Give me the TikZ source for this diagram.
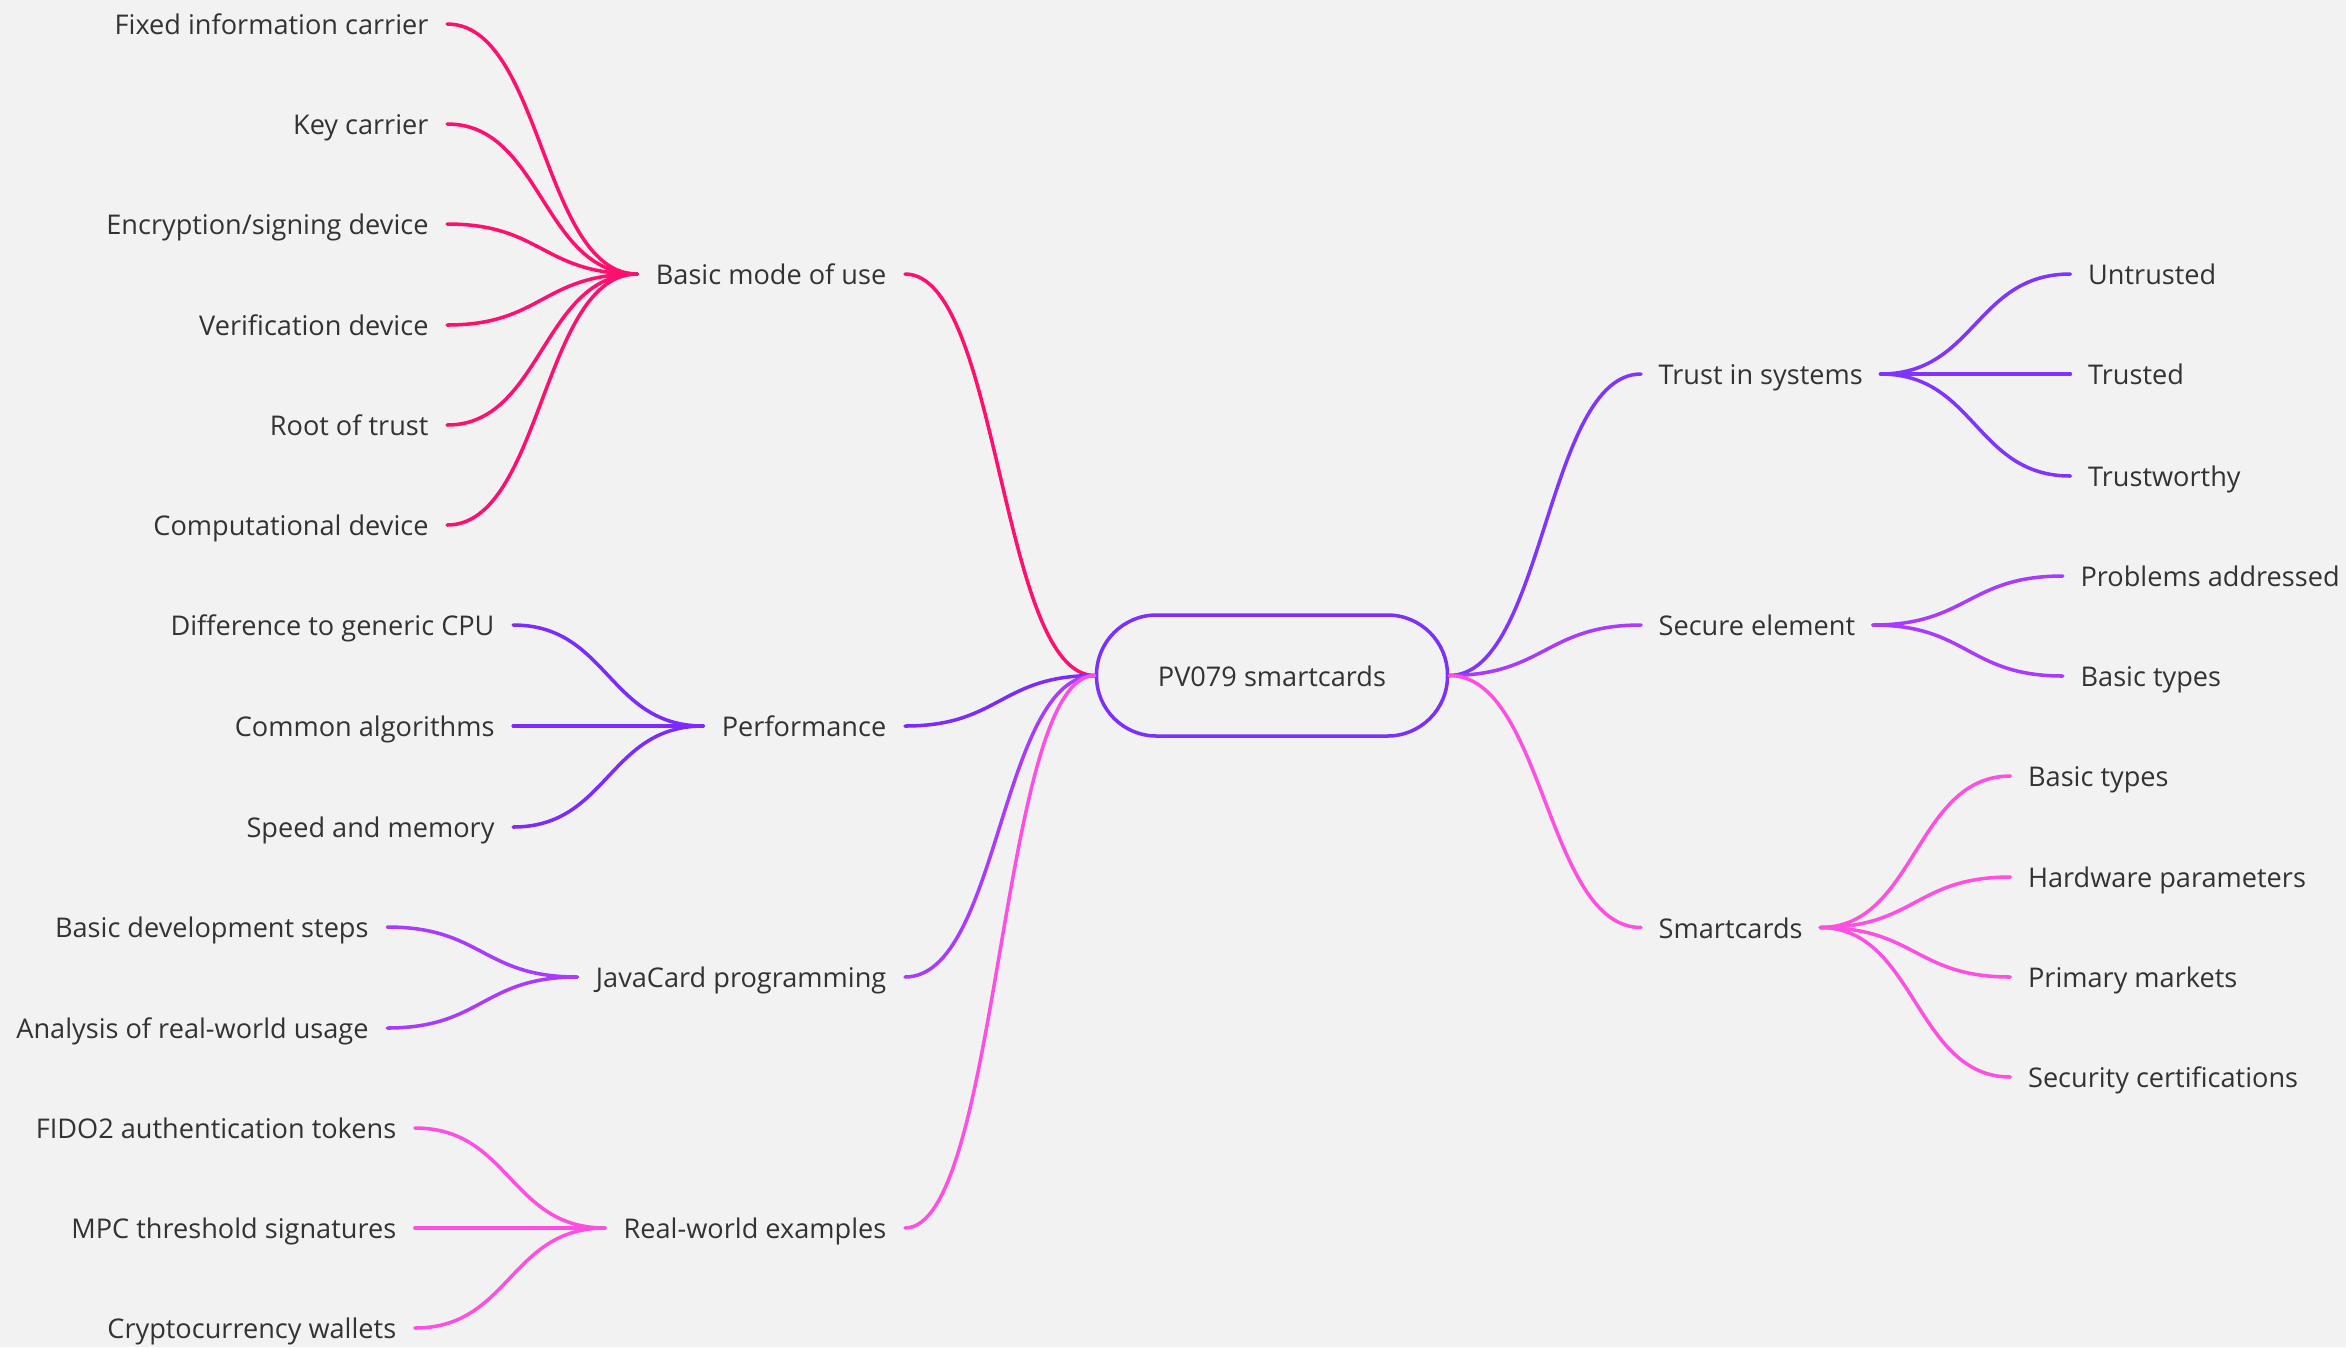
\documentclass[tikz,border=0pt]{standalone}
\usepackage{fontspec}
\setmainfont{Open Sans}

\definecolor{bgcol}{HTML}{F2F2F2}
\definecolor{txtcol}{HTML}{333333}
\definecolor{rootline}{HTML}{7B30FF}
\definecolor{rosered}{HTML}{FF0F6E}
\definecolor{perfviolet}{HTML}{7B2BFF}
\definecolor{javapurple}{HTML}{A83BFF}
\definecolor{realpink}{HTML}{FF4FE0}
\definecolor{trustviolet}{HTML}{7F35FF}
\definecolor{securepurple}{HTML}{A83BFF}
\definecolor{smartpink}{HTML}{FF4FE0}

\begin{document}
\begin{tikzpicture}[
	every node/.style = {font = \fontsize{7.72}{9}\selectfont,
						 text = txtcol,
						 text height = 0.86em,
						 text depth = 0.25em},
	leftitem/.style = {anchor = east, inner xsep = 0.18cm},
	rightitem/.style = {anchor = west, inner xsep = 0.17cm},
	link/.style = {line width = 1pt, line cap = round}]

	\fill[bgcol] (0,0) rectangle (23.46,-13.47);
	\useasboundingbox (0,0) rectangle (23.46,-13.47);

	% central topic
	\draw (12.72,-6.755) node[draw = rootline,
					 line width = 1pt,
					 rounded corners = 0.6cm,
					 minimum width = 3.51cm,
					 minimum height = 1.21cm] (root) {PV079 smartcards};

	% main branches, left
	\draw (9.05,-2.74) node[leftitem] (basic) {Basic mode of use};
	\draw (9.05,-7.26) node[leftitem] (perf) {Performance};
	\draw (9.05,-9.77) node[leftitem] (java) {JavaCard programming};
	\draw (9.05,-12.28) node[leftitem] (real) {Real-world examples};

	\draw[link, rosered] (root.west) .. controls +(-0.95,0) and +(0.95,0) .. (basic.east);
	\draw[link, perfviolet] (root.west) .. controls +(-0.95,0) and +(0.95,0) .. (perf.east);
	\draw[link, javapurple] (root.west) .. controls +(-0.95,0) and +(0.95,0) .. (java.east);
	\draw[link, realpink] (root.west) .. controls +(-0.95,0) and +(0.95,0) .. (real.east);

	% main branches, right
	\draw (16.41,-3.74) node[rightitem] (trust) {Trust in systems};
	\draw (16.41,-6.25) node[rightitem] (secure) {Secure element};
	\draw (16.41,-9.275) node[rightitem] (smart) {Smartcards};

	\draw[link, trustviolet] (root.east) .. controls +(0.95,0) and +(-0.95,0) .. (trust.west);
	\draw[link, securepurple] (root.east) .. controls +(0.95,0) and +(-0.95,0) .. (secure.west);
	\draw[link, smartpink] (root.east) .. controls +(0.95,0) and +(-0.95,0) .. (smart.west);

	% basic mode of use
	\coordinate (basichub) at ([xshift=-1.9cm]basic.west);
	\draw (basichub |- 0,-0.24) node[leftitem] (fixed) {Fixed information carrier};
	\draw (basichub |- 0,-1.24) node[leftitem] (keycar) {Key carrier};
	\draw (basichub |- 0,-2.24) node[leftitem] (encsign) {Encryption/signing device};
	\draw (basichub |- 0,-3.25) node[leftitem] (verif) {Verification device};
	\draw (basichub |- 0,-4.25) node[leftitem] (rootoft) {Root of trust};
	\draw (basichub |- 0,-5.25) node[leftitem] (compdev) {Computational device};

	\draw[link, rosered] (fixed.east) .. controls +(0.95,0) and +(-0.95,0) .. (basic.west);
	\draw[link, rosered] (keycar.east) .. controls +(0.95,0) and +(-0.95,0) .. (basic.west);
	\draw[link, rosered] (encsign.east) .. controls +(0.95,0) and +(-0.95,0) .. (basic.west);
	\draw[link, rosered] (verif.east) .. controls +(0.95,0) and +(-0.95,0) .. (basic.west);
	\draw[link, rosered] (rootoft.east) .. controls +(0.95,0) and +(-0.95,0) .. (basic.west);
	\draw[link, rosered] (compdev.east) .. controls +(0.95,0) and +(-0.95,0) .. (basic.west);

	% performance
	\coordinate (perfhub) at ([xshift=-1.9cm]perf.west);
	\draw (perfhub |- 0,-6.25) node[leftitem] (diffcpu) {Difference to generic CPU};
	\draw (perfhub |- 0,-7.26) node[leftitem] (commalg) {Common algorithms};
	\draw (perfhub |- 0,-8.27) node[leftitem] (speedmem) {Speed and memory};

	\draw[link, perfviolet] (diffcpu.east) .. controls +(0.95,0) and +(-0.95,0) .. (perf.west);
	\draw[link, perfviolet] (commalg.east) -- (perf.west);
	\draw[link, perfviolet] (speedmem.east) .. controls +(0.95,0) and +(-0.95,0) .. (perf.west);

	% javacard programming
	\coordinate (javahub) at ([xshift=-1.9cm]java.west);
	\draw (javahub |- 0,-9.27) node[leftitem] (devsteps) {Basic development steps};
	\draw (javahub |- 0,-10.28) node[leftitem] (realuse) {Analysis of real-world usage};

	\draw[link, javapurple] (devsteps.east) .. controls +(0.95,0) and +(-0.95,0) .. (java.west);
	\draw[link, javapurple] (realuse.east) .. controls +(0.95,0) and +(-0.95,0) .. (java.west);

	% real-world examples
	\coordinate (realhub) at ([xshift=-1.9cm]real.west);
	\draw (realhub |- 0,-11.28) node[leftitem] (fido) {FIDO2 authentication tokens};
	\draw (realhub |- 0,-12.28) node[leftitem] (mpc) {MPC threshold signatures};
	\draw (realhub |- 0,-13.28) node[leftitem] (crypto) {Cryptocurrency wallets};

	\draw[link, realpink] (fido.east) .. controls +(0.95,0) and +(-0.95,0) .. (real.west);
	\draw[link, realpink] (mpc.east) -- (real.west);
	\draw[link, realpink] (crypto.east) .. controls +(0.95,0) and +(-0.95,0) .. (real.west);

	% trust in systems
	\coordinate (trusthub) at ([xshift=1.9cm]trust.east);
	\draw (trusthub |- 0,-2.74) node[rightitem] (untrusted) {Untrusted};
	\draw (trusthub |- 0,-3.74) node[rightitem] (trusted) {Trusted};
	\draw (trusthub |- 0,-4.76) node[rightitem] (worthy) {Trustworthy};

	\draw[link, trustviolet] (trust.east) .. controls +(0.95,0) and +(-0.95,0) .. (untrusted.west);
	\draw[link, trustviolet] (trust.east) -- (trusted.west);
	\draw[link, trustviolet] (trust.east) .. controls +(0.95,0) and +(-0.95,0) .. (worthy.west);

	% secure element
	\coordinate (securehub) at ([xshift=1.9cm]secure.east);
	\draw (securehub |- 0,-5.76) node[rightitem] (problems) {Problems addressed};
	\draw (securehub |- 0,-6.76) node[rightitem] (setypes) {Basic types};

	\draw[link, securepurple] (secure.east) .. controls +(0.95,0) and +(-0.95,0) .. (problems.west);
	\draw[link, securepurple] (secure.east) .. controls +(0.95,0) and +(-0.95,0) .. (setypes.west);

	% smartcards
	\coordinate (smarthub) at ([xshift=1.9cm]smart.east);
	\draw (smarthub |- 0,-7.76) node[rightitem] (sctypes) {Basic types};
	\draw (smarthub |- 0,-8.77) node[rightitem] (hwparams) {Hardware parameters};
	\draw (smarthub |- 0,-9.77) node[rightitem] (markets) {Primary markets};
	\draw (smarthub |- 0,-10.77) node[rightitem] (certs) {Security certifications};

	\draw[link, smartpink] (smart.east) .. controls +(0.95,0) and +(-0.95,0) .. (sctypes.west);
	\draw[link, smartpink] (smart.east) .. controls +(0.95,0) and +(-0.95,0) .. (hwparams.west);
	\draw[link, smartpink] (smart.east) .. controls +(0.95,0) and +(-0.95,0) .. (markets.west);
	\draw[link, smartpink] (smart.east) .. controls +(0.95,0) and +(-0.95,0) .. (certs.west);
\end{tikzpicture}
\end{document}
